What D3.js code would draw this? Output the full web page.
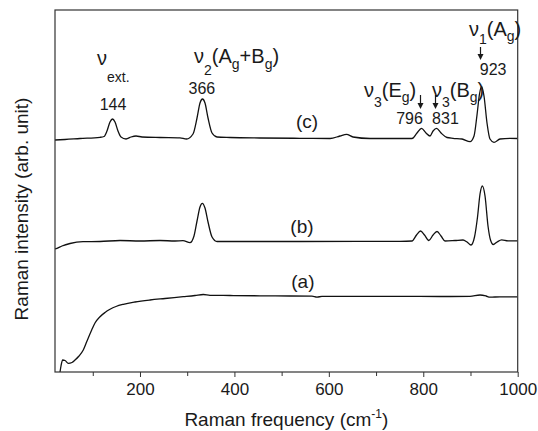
<!DOCTYPE html>
<html>
<head>
<meta charset="utf-8">
<script src="https://cdn.jsdelivr.net/npm/d3@7"></script>
<style>
  body { margin: 0; background: #fff; }
  text { font-family: Arial, "Liberation Sans", sans-serif; fill: #1a1a1a; }
</style>
</head>
<body>
<div id="chart"></div>
<script>
const width = 538;
const height = 431;
const marginLeft = 55;
const marginTop = 10;
const marginRight = 20.3;
const marginBottom = 59;

const freqA = [30.6, 32.7, 36.3, 41.2, 48.2, 56, 62.4, 70.8, 79.9, 87.8, 97.7, 104.7, 115.3, 125.9, 136.5, 149.2, 164.7, 189.4, 221.2, 253, 291.7, 316.5, 334.1, 348.3, 390.7, 454.2, 517.7, 564.3, 574.9, 585.5, 666, 750.7, 835.4, 899, 920.2, 932.9, 941.3, 962.5, 1000];
const intA = [0, 6, 12, 11.5, 8.7, 9.5, 12, 16, 22, 31, 42, 49, 55.3, 59.5, 62.7, 65.5, 67.7, 70, 72, 73.5, 75.3, 76.5, 77.5, 76.7, 76.5, 76.2, 76, 75.8, 74.8, 75.7, 75.7, 75.7, 75.5, 75.7, 77, 76, 74.8, 75.2, 75.2];

const freqB = [20, 24.2, 34.8, 51.8, 79.3, 115.3, 157.7, 200, 242.4, 274.2, 291.1, 305.9, 314.4, 320.8, 327.1, 332, 337.7, 344.1, 352.6, 363.2, 390.7, 538.9, 750.7, 776.1, 785.7, 794.2, 802.6, 811.7, 820.7, 829.1, 837.6, 846.1, 867.2, 884.2, 892.7, 901.1, 908.5, 914.9, 920.2, 925.1, 930.8, 937.1, 942.4, 948.3, 956.2, 966.1, 979.5, 1000];
const intB = [123, 123.7, 126, 128.5, 130.3, 130.5, 131.5, 131, 131.5, 131, 131.3, 129.3, 136, 151, 165, 168.7, 164, 150, 135, 130.5, 130.5, 130.5, 130.7, 131, 137, 141, 137, 131.5, 137, 140.5, 136, 131, 131.5, 132, 130, 127, 135, 155, 178, 186, 176, 146, 132, 127.5, 130, 132.2, 131.2, 131.2];

const freqC = [20, 41.2, 73, 115.3, 123.8, 130.1, 136.5, 141.8, 147.1, 153.4, 159.8, 170.4, 181, 191.6, 204.3, 242.4, 284.7, 298.5, 312.3, 320.8, 327.1, 332.4, 337.7, 344.1, 352.6, 363.2, 390.7, 454.2, 538.9, 602.5, 623.6, 637.4, 651.2, 687.2, 750.7, 776.1, 786.7, 796.2, 805.8, 814.3, 820.7, 828.1, 837.6, 850.3, 863, 882.1, 899, 907.5, 913.8, 919.1, 923.3, 928.6, 935, 941.3, 949.8, 962.5, 983.7, 1000];
const intC = [232, 232.5, 233.5, 234.7, 235.5, 241, 250, 253, 250, 241, 235, 233, 235, 236, 235, 234.5, 234.2, 233, 238, 254, 269, 273, 269, 254, 239, 235, 234.5, 234, 233.7, 233.5, 236, 237.7, 235, 233.5, 233.5, 233.5, 239, 243.7, 239, 236, 241, 243.7, 239, 234.5, 233.7, 233, 230.3, 236, 257, 278, 285.3, 276, 249, 233, 229.7, 233, 233.7, 233.5];

// Ticks del eje X
const majorTicks = [200, 400, 600, 800, 1000];
const minorTicks = [100, 300, 500, 700, 900];

// Etiquetas de las curvas
const curveLabels = ['(a)', '(b)', '(c)'];
const curveLabelFreq = [545, 543, 554];
const curveLabelInt = [84, 139, 244];

// Etiquetas de los picos
const peakNumbers = ['144', '366', '796', '831', '923'];
const peakNumFreq = [142.8, 331, 771, 847, 948];
const peakNumInt = [262, 278, 248, 248, 297];

// Flechas de los picos
const arrowFreq = [793, 825, 920];
const arrowTop = [95, 95, 47];
const arrowBottom = [109, 109, 60];

const svg = d3.select('#chart')
  .append('svg')
  .attr('width', width)
  .attr('height', height);

const x = d3.scaleLinear()
  .domain([20, 1000])
  .range([marginLeft, width - marginRight]);

const y = d3.scaleLinear()
  .domain([0, 362])
  .range([height - marginBottom, marginTop]);

// Clip del area del grafico
svg.append('clipPath')
  .attr('id', 'plotclip')
  .append('rect')
  .attr('x', marginLeft)
  .attr('y', marginTop)
  .attr('width', width - marginLeft - marginRight)
  .attr('height', height - marginTop - marginBottom);

const line = d3.line()
  .x(d => x(d[0]))
  .y(d => y(d[1]))
  .curve(d3.curveMonotoneX);

const series = [
  d3.zip(freqA, intA),
  d3.zip(freqB, intB),
  d3.zip(freqC, intC)
];

svg.append('g')
  .attr('clip-path', 'url(#plotclip)')
  .selectAll('path')
  .data(series)
  .enter()
  .append('path')
  .attr('d', line)
  .attr('fill', 'none')
  .attr('stroke', '#111')
  .attr('stroke-width', 1.3);

// Marco
svg.append('rect')
  .attr('x', marginLeft)
  .attr('y', marginTop)
  .attr('width', width - marginLeft - marginRight)
  .attr('height', height - marginTop - marginBottom)
  .attr('fill', 'none')
  .attr('stroke', '#333')
  .attr('stroke-width', 1.2);

// Eje X
const xAxis = svg.append('g')
  .attr('transform', `translate(0, ${height - marginBottom})`)
  .call(d3.axisBottom(x).tickValues(majorTicks).tickSize(5).tickPadding(6).tickFormat(d3.format('d')));

xAxis.select('.domain').remove();
xAxis.selectAll('text')
  .attr('font-size', 17)
  .attr('font-family', 'Arial, "Liberation Sans", sans-serif')
  .attr('fill', '#1a1a1a');
xAxis.selectAll('line').attr('stroke', '#333');

const xMinor = svg.append('g')
  .attr('transform', `translate(0, ${height - marginBottom})`)
  .call(d3.axisBottom(x).tickValues(minorTicks).tickSize(4).tickFormat(''));
xMinor.select('.domain').remove();
xMinor.selectAll('line').attr('stroke', '#333');

// Titulo eje X
const xTitle = svg.append('text')
  .attr('x', (marginLeft + width - marginRight) / 2)
  .attr('y', 426)
  .attr('text-anchor', 'middle')
  .attr('font-size', 19);
xTitle.append('tspan').text('Raman frequency (cm');
xTitle.append('tspan').attr('dy', -8).attr('font-size', 12).text('-1');
xTitle.append('tspan').attr('dy', 8).text(')');

// Titulo eje Y
svg.append('text')
  .attr('transform', `translate(28, ${(marginTop + height - marginBottom) / 2 + 18}) rotate(-90)`)
  .attr('text-anchor', 'middle')
  .attr('font-size', 19)
  .text('Raman intensity (arb. unit)');

// Etiquetas (a), (b), (c)
svg.selectAll('.curvelabel')
  .data(curveLabels)
  .enter()
  .append('text')
  .attr('class', 'curvelabel')
  .attr('x', (d, i) => x(curveLabelFreq[i]))
  .attr('y', (d, i) => y(curveLabelInt[i]))
  .attr('text-anchor', 'middle')
  .attr('font-size', 19)
  .text(d => d);

// Numeros de los picos
svg.selectAll('.peaknum')
  .data(peakNumbers)
  .enter()
  .append('text')
  .attr('class', 'peaknum')
  .attr('x', (d, i) => x(peakNumFreq[i]))
  .attr('y', (d, i) => y(peakNumInt[i]))
  .attr('text-anchor', 'middle')
  .attr('font-size', 16)
  .text(d => d);

// Etiquetas de modos de vibracion
function modeLabel(px, py, parts) {
  const t = svg.append('text')
    .attr('x', px)
    .attr('y', py)
    .attr('font-size', 20);
  let shift = 0;
  parts.forEach(p => {
    const dy = p[1] - shift;
    shift = p[1];
    t.append('tspan')
      .attr('dy', dy)
      .attr('font-size', p[1] !== 0 ? 14 : 20)
      .text(p[0]);
  });
}

modeLabel(97, 65, [['ν', 0], ['ext.', 17]]);
modeLabel(194, 63, [['ν', 0], ['2', 12], ['(A', 0], ['g', 6], ['+B', 0], ['g', 6], [')', 0]]);
modeLabel(364, 97, [['ν', 0], ['3', 10], ['(E', 0], ['g', 5], [')', 0]]);
modeLabel(432, 97, [['ν', 0], ['3', 10], ['(B', 0], ['g', 5], [')', 0]]);
modeLabel(469, 36, [['ν', 0], ['1', 8], ['(A', 0], ['g', 5], [')', 0]]);

// Flechas
arrowFreq.forEach((f, i) => {
  const ax = Math.round(x(f)) + 0.5;
  svg.append('line')
    .attr('x1', ax).attr('x2', ax)
    .attr('y1', arrowTop[i]).attr('y2', arrowBottom[i] - 5)
    .attr('stroke', '#1a1a1a')
    .attr('stroke-width', 1.2);
  svg.append('path')
    .attr('d', `M${ax - 3},${arrowBottom[i] - 6} L${ax + 3},${arrowBottom[i] - 6} L${ax},${arrowBottom[i]} Z`)
    .attr('fill', '#1a1a1a');
});
</script>
</body>
</html>
